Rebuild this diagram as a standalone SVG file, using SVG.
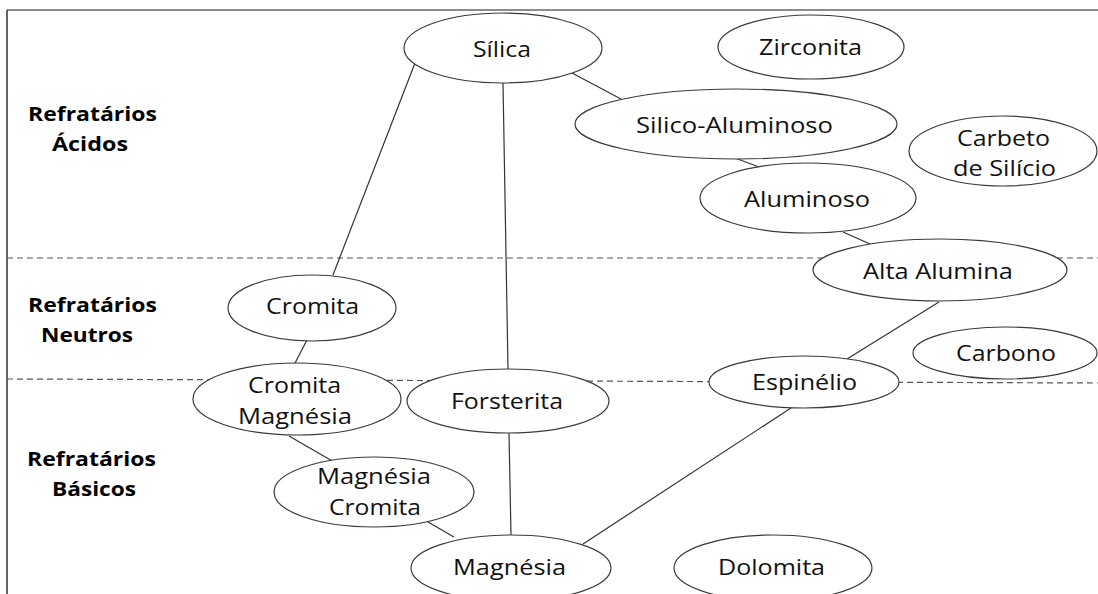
<svg xmlns="http://www.w3.org/2000/svg" width="1098" height="594" viewBox="0 0 1098 594">
<style>
.n{fill:#fff;stroke:#3a3a3a;stroke-width:1.2}
.t{font-family:"Open Sans","Liberation Sans",sans-serif;font-size:21px;fill:#111;text-anchor:start}
.h{font-family:"Open Sans","Liberation Sans",sans-serif;font-size:20px;font-weight:bold;fill:#000}
.c{stroke:#333;stroke-width:1.2;fill:none}
.d{stroke:#555;stroke-width:1.2;stroke-dasharray:6 4;fill:none}
</style>
<rect width="1098" height="594" fill="#fff"/>
<g id="frame">
<line x1="7" y1="10" x2="1098" y2="10" stroke="#666" stroke-width="1.5"/>
<line x1="7" y1="10" x2="7" y2="594" stroke="#333" stroke-width="1.5"/>
<line class="d" x1="7" y1="258" x2="1098" y2="258"/>
<line class="d" x1="7" y1="379" x2="1098" y2="383"/>
</g>
<g id="labels">
<text class="h" x="28" y="121" textLength="129" lengthAdjust="spacingAndGlyphs">Refratários</text>
<text class="h" x="52" y="151" textLength="76" lengthAdjust="spacingAndGlyphs">Ácidos</text>
<text class="h" x="28" y="312" textLength="129" lengthAdjust="spacingAndGlyphs">Refratários</text>
<text class="h" x="41" y="342" textLength="92" lengthAdjust="spacingAndGlyphs">Neutros</text>
<text class="h" x="27" y="466" textLength="129" lengthAdjust="spacingAndGlyphs">Refratários</text>
<text class="h" x="52" y="496" textLength="84" lengthAdjust="spacingAndGlyphs">Básicos</text>
</g>
<g id="connectors">
<line class="c" x1="415" y1="63" x2="333" y2="275"/>
<line class="c" x1="503" y1="83" x2="508" y2="369"/>
<line class="c" x1="572" y1="73" x2="621" y2="99"/>
<line class="c" x1="735" y1="158" x2="759" y2="167"/>
<line class="c" x1="843" y1="232" x2="870" y2="244"/>
<line class="c" x1="939" y1="302" x2="847" y2="359"/>
<line class="c" x1="791" y1="408" x2="583" y2="544"/>
<line class="c" x1="307" y1="340" x2="294" y2="365"/>
<line class="c" x1="289" y1="436" x2="334" y2="462"/>
<line class="c" x1="428" y1="522" x2="454" y2="537"/>
<line class="c" x1="509" y1="433" x2="511" y2="535"/>
</g>
<g id="silica"><ellipse class="n" cx="503" cy="48" rx="99" ry="35"/><text class="t" x="473" y="57" textLength="58" lengthAdjust="spacingAndGlyphs">Sílica</text></g>
<g id="zirconita"><ellipse class="n" cx="811" cy="47" rx="93" ry="32"/><text class="t" x="759" y="55" textLength="103" lengthAdjust="spacingAndGlyphs">Zirconita</text></g>
<g id="silico-aluminoso"><ellipse class="n" cx="736" cy="124" rx="161" ry="35"/><text class="t" x="636" y="133" textLength="197" lengthAdjust="spacingAndGlyphs">Silico-Aluminoso</text></g>
<g id="carbeto"><ellipse class="n" cx="1003" cy="151" rx="94" ry="35"/><text class="t" x="957" y="146" textLength="93" lengthAdjust="spacingAndGlyphs">Carbeto</text><text class="t" x="953" y="176" textLength="103" lengthAdjust="spacingAndGlyphs">de Silício</text></g>
<g id="aluminoso"><ellipse class="n" cx="808" cy="198" rx="108" ry="35"/><text class="t" x="744" y="207" textLength="126" lengthAdjust="spacingAndGlyphs">Aluminoso</text></g>
<g id="alta-alumina"><ellipse class="n" cx="940" cy="270" rx="127" ry="31"/><text class="t" x="863" y="279" textLength="150" lengthAdjust="spacingAndGlyphs">Alta Alumina</text></g>
<g id="cromita"><ellipse class="n" cx="312" cy="308" rx="84" ry="33"/><text class="t" x="266" y="314" textLength="93" lengthAdjust="spacingAndGlyphs">Cromita</text></g>
<g id="carbono"><ellipse class="n" cx="1005" cy="353" rx="92" ry="26"/><text class="t" x="956" y="361" textLength="100" lengthAdjust="spacingAndGlyphs">Carbono</text></g>
<g id="cromita-magnesia"><ellipse class="n" cx="297" cy="399" rx="104" ry="36"/><text class="t" x="248" y="393" textLength="93" lengthAdjust="spacingAndGlyphs">Cromita</text><text class="t" x="238" y="424" textLength="114" lengthAdjust="spacingAndGlyphs">Magnésia</text></g>
<g id="forsterita"><ellipse class="n" cx="508" cy="401" rx="101" ry="32"/><text class="t" x="451" y="409" textLength="112" lengthAdjust="spacingAndGlyphs">Forsterita</text></g>
<g id="espinelio"><ellipse class="n" cx="804" cy="382" rx="95" ry="26"/><text class="t" x="752" y="390" textLength="105" lengthAdjust="spacingAndGlyphs">Espinélio</text></g>
<g id="magnesia-cromita"><ellipse class="n" cx="374" cy="492" rx="100" ry="35"/><text class="t" x="317" y="484" textLength="114" lengthAdjust="spacingAndGlyphs">Magnésia</text><text class="t" x="329" y="515" textLength="92" lengthAdjust="spacingAndGlyphs">Cromita</text></g>
<g id="magnesia"><ellipse class="n" cx="511" cy="568" rx="100" ry="33"/><text class="t" x="453" y="575" textLength="113" lengthAdjust="spacingAndGlyphs">Magnésia</text></g>
<g id="dolomita"><ellipse class="n" cx="773" cy="568" rx="99" ry="33"/><text class="t" x="718" y="575" textLength="107" lengthAdjust="spacingAndGlyphs">Dolomita</text></g>
</svg>
